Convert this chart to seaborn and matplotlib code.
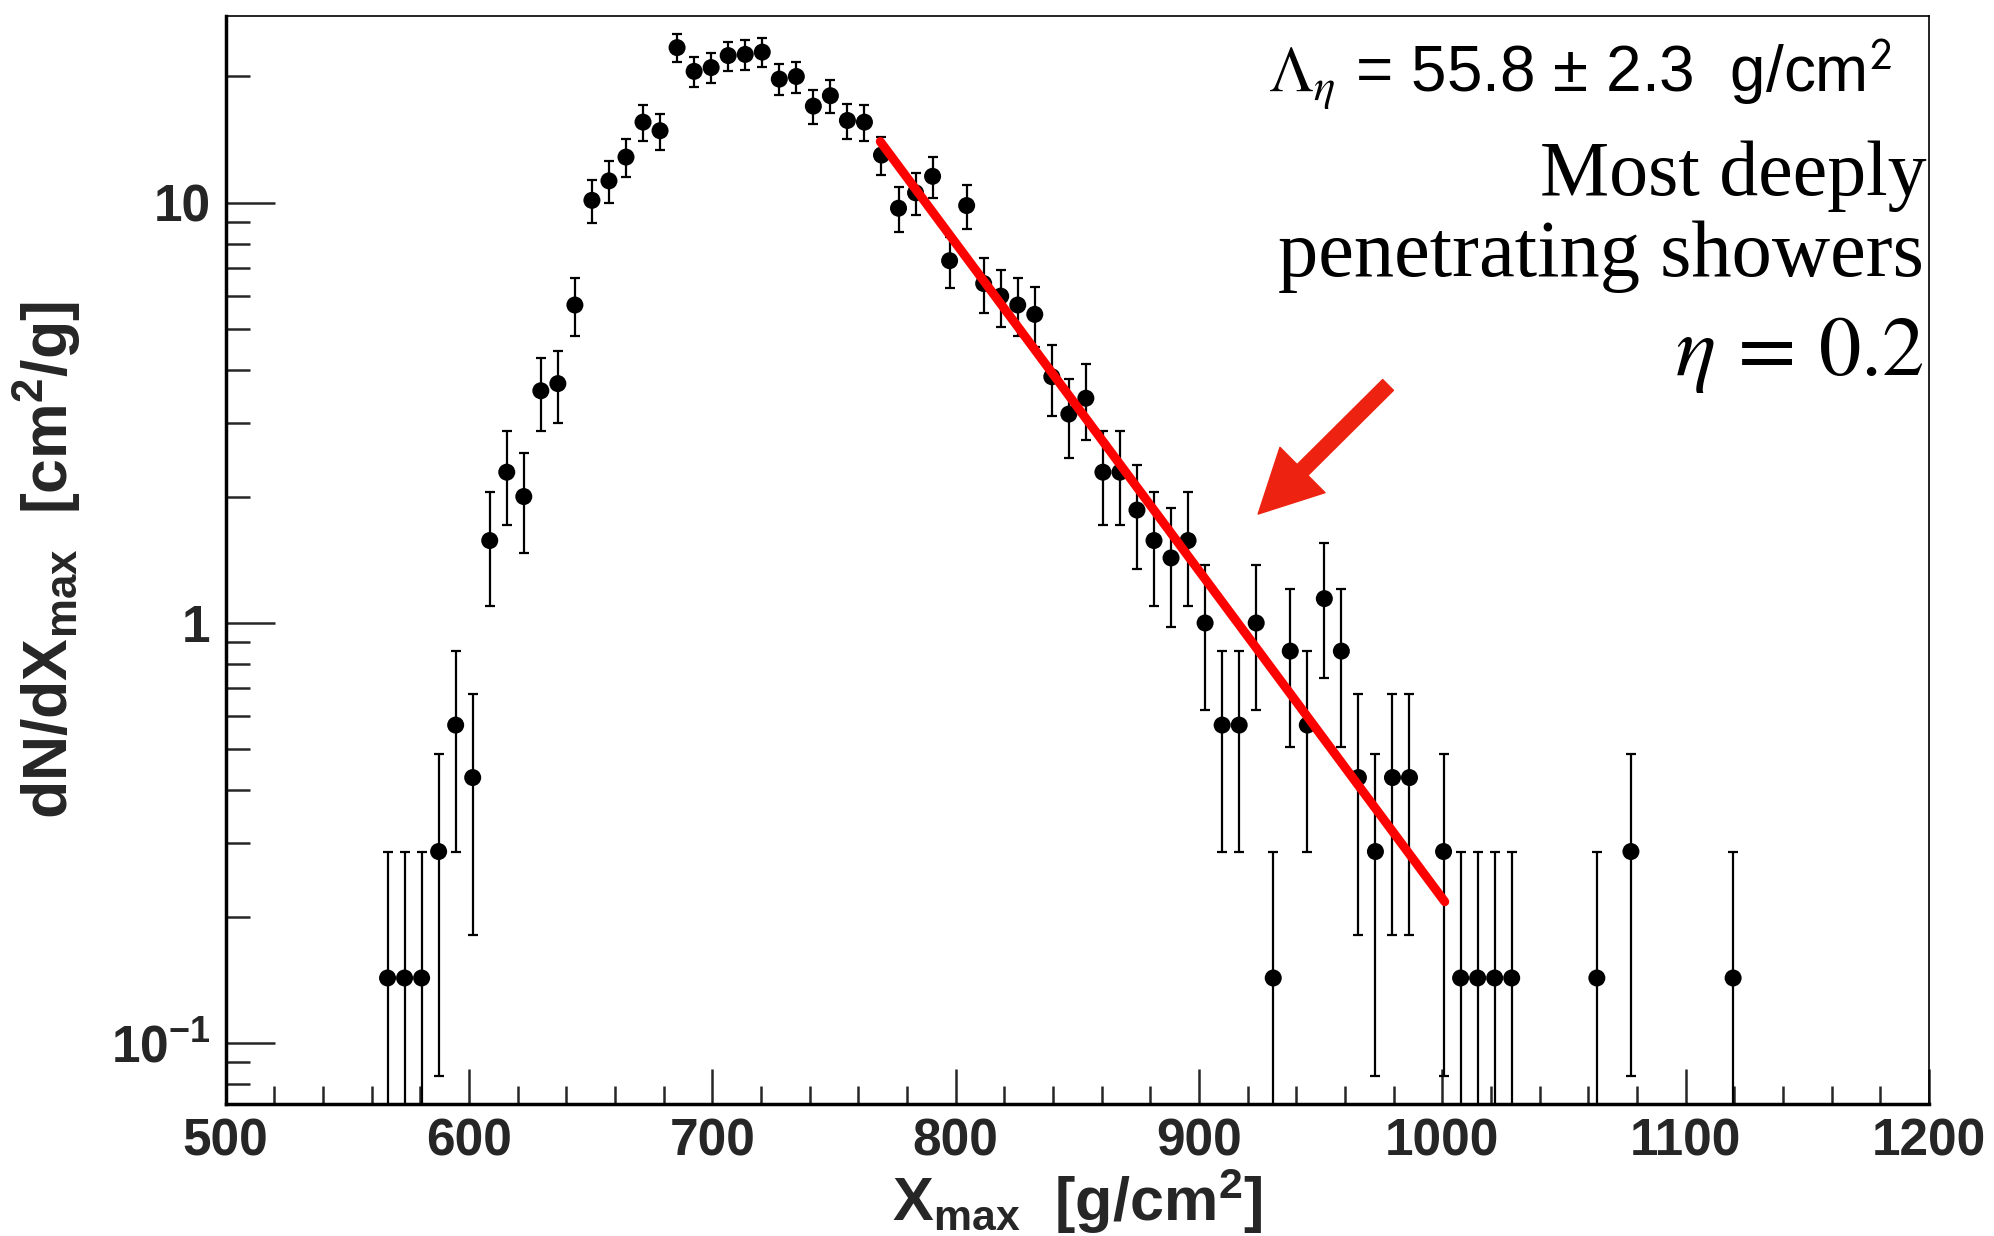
import numpy as np
import pandas as pd
import matplotlib
matplotlib.use("Agg")
import matplotlib.pyplot as plt
import seaborn as sns
from matplotlib.patches import FancyArrowPatch
from matplotlib.ticker import LogLocator, NullFormatter, MultipleLocator

# ---------------- data ----------------
bin_width = 7.0  # g/cm^2
bin_centers = [566.5, 573.5, 580.5, 587.5, 594.5, 601.5, 608.5, 615.5, 622.5, 629.5,
               636.5, 643.5, 650.5, 657.5, 664.5, 671.5, 678.5, 685.5, 692.5, 699.5,
               706.5, 713.5, 720.5, 727.5, 734.5, 741.5, 748.5, 755.5, 762.5, 769.5,
               776.5, 783.5, 790.5, 797.5, 804.5, 811.5, 818.5, 825.5, 832.5, 839.5,
               846.5, 853.5, 860.5, 867.5, 874.5, 881.5, 888.5, 895.5, 902.5, 909.5,
               916.5, 923.5, 930.5, 937.5, 944.5, 951.5, 958.5, 965.5, 972.5, 979.5,
               986.5, 1000.5, 1007.5, 1014.5, 1021.5, 1028.5, 1063.5, 1077.5, 1119.5]
counts = [1, 1, 1, 2, 4, 3, 11, 16, 14, 25,
          26, 40, 71, 79, 90, 109, 104, 164, 144, 147,
          157, 158, 160, 138, 140, 119, 126, 110, 109, 91,
          68, 74, 81, 51, 69, 45, 42, 40, 38, 27,
          22, 24, 16, 16, 13, 11, 10, 11, 7, 4,
          4, 7, 1, 6, 4, 8, 6, 3, 2, 3,
          3, 2, 1, 1, 1, 1, 1, 2, 1]

# exponential tail fit (straight line on log scale), end points
fit_x = [769.0, 1001.0]
fit_y = [14.0, 0.217]

x_ticks = [500, 600, 700, 800, 900, 1000, 1100, 1200]
y_ticks = [0.1, 1, 10]
y_ticklabels = [r"$10^{-1}$", "1", "10"]

lambda_text = r"$\Lambda_{\eta}$ = 55.8 ± 2.3  g/cm$^{\mathsf{2}}$"
note_lines = ["Most deeply", "penetrating showers", r"$\eta\, =\, 0.2$"]

# ---------------- derived ----------------
cnt = np.array(counts, dtype=float)
dens = cnt / bin_width
err = np.sqrt(cnt) / bin_width
df = pd.DataFrame({"x": bin_centers, "y": dens})
fit_df = pd.DataFrame({"x": fit_x, "y": fit_y})

# ---------------- style ----------------
sns.set_theme(style="ticks")
plt.rcParams.update({
    "font.family": ["Liberation Sans", "DejaVu Sans"],
    "mathtext.fontset": "custom",
    "mathtext.rm": "Liberation Sans:bold",
    "mathtext.it": "Liberation Sans:bold:italic",
    "mathtext.bf": "Liberation Sans:bold",
    "mathtext.sf": "Liberation Sans:bold",
    "axes.facecolor": "white",
    "figure.facecolor": "white",
})

fig = plt.figure(figsize=(19.94, 12.36), dpi=100)
ax = fig.add_axes([0.1132, 0.1068, 0.8542, 0.8803])

# error bars
ax.errorbar(df["x"], df["y"], yerr=[err, err], fmt="none", ecolor="black",
            elinewidth=1.6, capsize=3.5, capthick=1.6, zorder=2)
# points
sns.scatterplot(data=df, x="x", y="y", ax=ax, color="black", s=150,
                edgecolor="none", marker="o", zorder=3, legend=False)
# fit line
sns.lineplot(data=fit_df, x="x", y="y", ax=ax, color="#ff0000", linewidth=6.5,
             zorder=4, legend=False)

ax.set_yscale("log")
ax.set_xlim(500, 1200)
ax.set_ylim(0.0716, 27.87)

# ticks
ax.set_xticks(x_ticks)
ax.set_xticklabels([str(v) for v in x_ticks])
ax.xaxis.set_minor_locator(MultipleLocator(20))
ax.set_yticks(y_ticks)
ax.set_yticklabels(y_ticklabels)
ax.yaxis.set_minor_locator(LogLocator(base=10, subs=np.arange(2, 10)))
ax.yaxis.set_minor_formatter(NullFormatter())

ax.tick_params(axis="x", which="major", direction="in", length=25, width=1.8,
               labelsize=37, pad=10, top=False, bottom=True)
ax.tick_params(axis="x", which="minor", direction="in", length=13, width=1.8,
               top=False, bottom=True)
ax.tick_params(axis="y", which="major", direction="in", length=35, width=1.8,
               labelsize=37, pad=11, left=True, right=False)
ax.tick_params(axis="y", which="minor", direction="in", length=17.5, width=1.8,
               left=True, right=False)
for lab in ax.get_xticklabels() + ax.get_yticklabels():
    lab.set_fontweight("bold")

for side in ["left", "bottom"]:
    ax.spines[side].set_linewidth(2.5)
for side in ["top", "right"]:
    ax.spines[side].set_linewidth(1.2)
for s in ax.spines.values():
    s.set_color("black")

ax.set_xlabel(r"X$_{\mathrm{max}}$  [g/cm$^{\mathrm{2}}$]", fontsize=44,
              fontweight="bold", labelpad=0)
ax.set_ylabel(r"dN/dX$_{\mathrm{max}}$  [cm$^{\mathrm{2}}$/g]", fontsize=45,
              fontweight="bold", labelpad=20)

# annotations
ax.text(0.9783, 0.9292, lambda_text, transform=ax.transAxes, ha="right",
        va="baseline", fontsize=46, family="Liberation Sans",
        math_fontfamily="stix", color="black")
ax.text(0.9983, 0.8355, note_lines[0], transform=ax.transAxes, ha="right",
        va="baseline", fontsize=56, family="Liberation Serif", color="black")
ax.text(0.9968, 0.7606, note_lines[1], transform=ax.transAxes, ha="right",
        va="baseline", fontsize=58, family="Liberation Serif", color="black")
ax.text(0.9968, 0.670, note_lines[2], transform=ax.transAxes, ha="right",
        va="baseline", fontsize=61, family="Liberation Serif",
        math_fontfamily="stix", color="black")

arrow = FancyArrowPatch(posA=(977.7, 3.687), posB=(924.3, 1.817),
                        arrowstyle="simple,head_length=45,head_width=46,tail_width=11",
                        mutation_scale=1, color="#EE2210", shrinkA=0, shrinkB=0,
                        transform=ax.transData, zorder=5)
ax.add_patch(arrow)

fig.savefig("out.png", dpi=100)
